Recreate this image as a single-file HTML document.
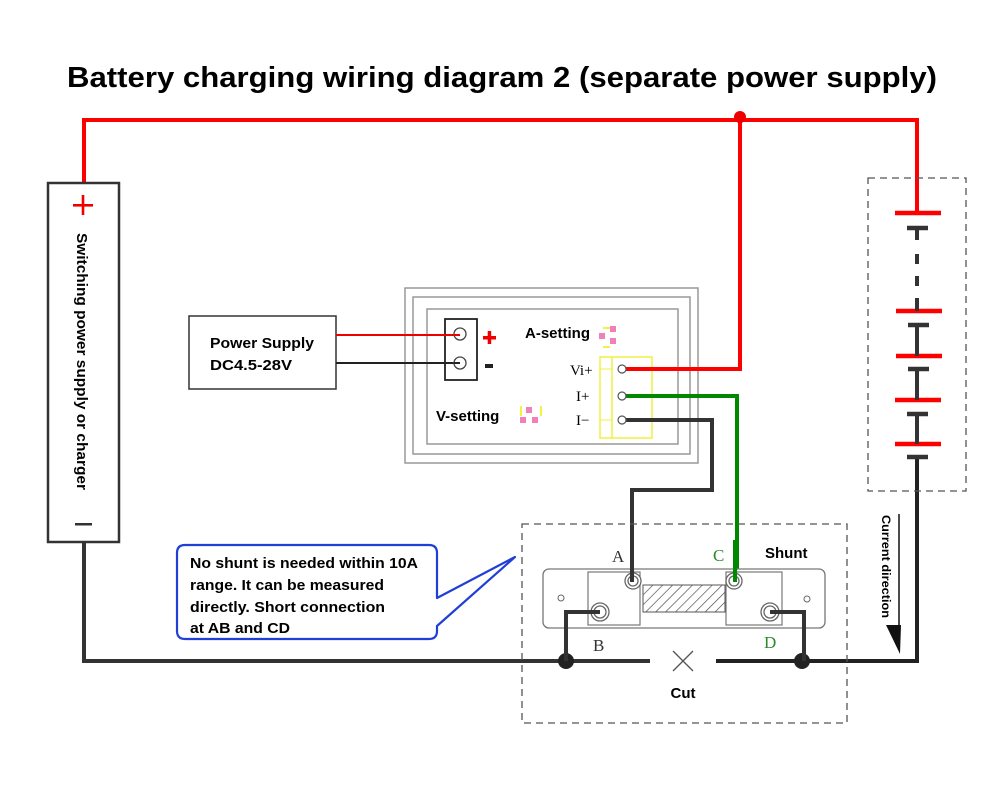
<!DOCTYPE html>
<html><head><meta charset="utf-8"><style>
html,body{margin:0;padding:0;background:#fff;}
svg{display:block;font-family:"Liberation Sans",sans-serif;}
.b{font-weight:bold;}
</style></head><body>
<svg width="1000" height="792" viewBox="0 0 1000 792" xmlns="http://www.w3.org/2000/svg">
<defs>
<pattern id="h" patternUnits="userSpaceOnUse" width="7" height="7" patternTransform="rotate(45)">
<line x1="0" y1="0" x2="0" y2="7" stroke="#444" stroke-width="1.3"/>
</pattern>
</defs>
<text x="67" y="87" textLength="870" lengthAdjust="spacingAndGlyphs" class="b" font-size="29" fill="#000">Battery charging wiring diagram 2 (separate power supply)</text>

<!-- red main -->
<polyline points="84,183 84,120 917,120 917,213" fill="none" stroke="#f00" stroke-width="4"/>
<polyline points="740,120 740,369 624,369" fill="none" stroke="#f00" stroke-width="4"/>
<circle cx="740" cy="117" r="6" fill="#e00"/>

<!-- left box -->
<rect x="48" y="183" width="71" height="359" fill="#fff" stroke="#333" stroke-width="2.5"/>
<rect x="73" y="204" width="20" height="2.6" fill="#e00"/>
<rect x="81.7" y="195" width="2.6" height="20" fill="#e00"/>
<rect x="75" y="523" width="17" height="2.5" fill="#333"/>
<text transform="translate(77,233) rotate(90)" textLength="257" lengthAdjust="spacingAndGlyphs" class="b" font-size="15" fill="#000">Switching power supply or charger</text>

<!-- black bottom -->
<polyline points="84,542 84,661 650,661" fill="none" stroke="#333" stroke-width="4"/>
<polyline points="716,661 917,661 917,457" fill="none" stroke="#222" stroke-width="4"/>
<circle cx="566" cy="661" r="8" fill="#222"/>
<circle cx="802" cy="661" r="8" fill="#222"/>
<line x1="673" y1="651" x2="693" y2="671" stroke="#555" stroke-width="1.3"/>
<line x1="693" y1="651" x2="673" y2="671" stroke="#555" stroke-width="1.3"/>
<text x="683" y="698" text-anchor="middle" class="b" font-size="15">Cut</text>

<!-- battery -->
<rect x="868" y="178" width="98" height="313" fill="none" stroke="#555" stroke-width="1.3" stroke-dasharray="7,5"/>
<g stroke="#f00" stroke-width="4.5">
<line x1="895" y1="213" x2="941" y2="213"/>
<line x1="896" y1="311" x2="942" y2="311"/>
<line x1="896" y1="356" x2="942" y2="356"/>
<line x1="895" y1="400" x2="941" y2="400"/>
<line x1="895" y1="444" x2="941" y2="444"/>
</g>
<g stroke="#333" stroke-width="4.5">
<line x1="907" y1="228" x2="928" y2="228"/>
<line x1="908" y1="325" x2="929" y2="325"/>
<line x1="908" y1="369" x2="929" y2="369"/>
<line x1="907" y1="414" x2="928" y2="414"/>
<line x1="907" y1="457" x2="928" y2="457"/>
</g>
<g stroke="#333" stroke-width="4">
<line x1="917" y1="228" x2="917" y2="240"/>
<line x1="917" y1="254" x2="917" y2="264"/>
<line x1="917" y1="276" x2="917" y2="286"/>
<line x1="917" y1="298" x2="917" y2="311"/>
<line x1="917" y1="325" x2="917" y2="356"/>
<line x1="917" y1="369" x2="917" y2="400"/>
<line x1="917" y1="414" x2="917" y2="444"/>
</g>
<line x1="899" y1="514" x2="899" y2="630" stroke="#111" stroke-width="1.5"/>
<polygon points="886,625 901,625 900,654" fill="#111"/>
<text transform="translate(882,515) rotate(90)" textLength="103" lengthAdjust="spacingAndGlyphs" class="b" font-size="11.5">Current direction</text>

<!-- power supply -->
<rect x="189" y="316" width="147" height="73" fill="#fff" stroke="#333" stroke-width="1.5"/>
<text x="210" y="348" textLength="104" lengthAdjust="spacingAndGlyphs" class="b" font-size="14.5">Power Supply</text>
<text x="210" y="370" textLength="82" lengthAdjust="spacingAndGlyphs" class="b" font-size="14.5">DC4.5-28V</text>

<!-- meter -->
<rect x="405" y="288" width="293" height="175" fill="#fff" stroke="#999" stroke-width="1.5"/>
<rect x="413" y="297" width="277" height="157" fill="none" stroke="#999" stroke-width="1.5"/>
<rect x="427" y="309" width="251" height="135" fill="none" stroke="#999" stroke-width="1.5"/>
<rect x="445" y="319" width="32" height="61" fill="#fff" stroke="#222" stroke-width="1.8"/>
<line x1="336" y1="335" x2="460" y2="335" stroke="#e00" stroke-width="2"/>
<line x1="336" y1="363" x2="460" y2="363" stroke="#222" stroke-width="2"/>
<circle cx="460" cy="334" r="6" fill="#fff" stroke="#444" stroke-width="1.3"/>
<circle cx="460" cy="363" r="6" fill="#fff" stroke="#444" stroke-width="1.3"/>
<line x1="454" y1="335" x2="460" y2="335" stroke="#e00" stroke-width="2"/>
<line x1="454" y1="363" x2="460" y2="363" stroke="#222" stroke-width="2"/>
<rect x="483" y="336" width="13" height="3.5" fill="#e00"/>
<rect x="487.7" y="331" width="3.5" height="13" fill="#e00"/>
<rect x="485" y="364" width="8" height="4" fill="#222"/>
<text x="525" y="338" class="b" font-size="15">A-setting</text>
<text x="436" y="421" class="b" font-size="15">V-setting</text>
<!-- pink icons -->
<g fill="#f080b8">
<rect x="599" y="333" width="6" height="6"/><rect x="610" y="326" width="6" height="6"/><rect x="610" y="338" width="6" height="6"/>
<rect x="526" y="407" width="6" height="6"/><rect x="520" y="417" width="6" height="6"/><rect x="532" y="417" width="6" height="6"/>
</g>
<path d="M603,328 h7 M603,347 h7" stroke="#ee0" stroke-width="1.5"/>
<path d="M521,406 v10 M541,406 v10" stroke="#ee0" stroke-width="1.5"/>
<rect x="600" y="357" width="52" height="81" fill="none" stroke="#f0f040" stroke-width="1.5"/>
<line x1="612" y1="357" x2="612" y2="438" stroke="#f0f040" stroke-width="1.5"/>
<line x1="600" y1="369" x2="612" y2="369" stroke="#f0f040" stroke-width="1"/>
<line x1="600" y1="420" x2="612" y2="420" stroke="#f0f040" stroke-width="1"/>
<text x="570" y="375" font-family="Liberation Serif,serif" font-size="15">Vi+</text>
<text x="576" y="401" font-family="Liberation Serif,serif" font-size="15">I+</text>
<text x="576" y="425" font-family="Liberation Serif,serif" font-size="15">I−</text>

<!-- wires green/black -->
<polyline points="624,396 737,396 737,580" fill="none" stroke="#080" stroke-width="4"/>
<polyline points="624,420 712,420 712,490 632,490 632,580" fill="none" stroke="#333" stroke-width="4"/>
<polyline points="740,369 624,369" fill="none" stroke="#f00" stroke-width="4"/>
<circle cx="622" cy="369" r="4" fill="#fff" stroke="#555" stroke-width="1.2"/>
<circle cx="622" cy="396" r="4" fill="#fff" stroke="#555" stroke-width="1.2"/>
<circle cx="622" cy="420" r="4" fill="#fff" stroke="#555" stroke-width="1.2"/>

<!-- shunt -->
<rect x="522" y="524" width="325" height="199" fill="none" stroke="#555" stroke-width="1.3" stroke-dasharray="7,5"/>
<rect x="543" y="569" width="282" height="59" rx="6" fill="#fff" stroke="#777" stroke-width="1.3"/>
<rect x="588" y="572" width="52" height="53" fill="#fff" stroke="#777" stroke-width="1.2"/>
<rect x="726" y="572" width="56" height="53" fill="#fff" stroke="#777" stroke-width="1.2"/>
<rect x="643" y="585" width="82" height="27" fill="url(#h)" stroke="#555" stroke-width="1"/>
<circle cx="561" cy="598" r="3" fill="none" stroke="#666"/>
<circle cx="807" cy="599" r="3" fill="none" stroke="#666"/>
<g fill="#fff" stroke="#666" stroke-width="1.3">
<circle cx="633" cy="581" r="8"/><circle cx="633" cy="581" r="5"/>
<circle cx="734" cy="581" r="8"/><circle cx="734" cy="581" r="5"/>
<circle cx="600" cy="612" r="9"/><circle cx="600" cy="612" r="6"/>
<circle cx="770" cy="612" r="9"/><circle cx="770" cy="612" r="6"/>
</g>
<line x1="632" y1="540" x2="632" y2="582" stroke="#333" stroke-width="4"/>
<line x1="735" y1="540" x2="735" y2="582" stroke="#080" stroke-width="4"/>
<polyline points="600,612 566,612 566,661" fill="none" stroke="#333" stroke-width="4"/>
<polyline points="770,612 804,612 804,661" fill="none" stroke="#333" stroke-width="4"/>
<text x="612" y="562" font-family="Liberation Serif,serif" font-size="17" fill="#333">A</text>
<text x="713" y="561" font-family="Liberation Serif,serif" font-size="17" fill="#2a8a2a">C</text>
<text x="765" y="558" class="b" font-size="15">Shunt</text>
<text x="593" y="651" font-family="Liberation Serif,serif" font-size="17" fill="#333">B</text>
<text x="764" y="648" font-family="Liberation Serif,serif" font-size="17" fill="#2a8a2a">D</text>

<!-- callout -->
<path d="M185,545 H429 Q437,545 437,553 V598 L515,557 L437,626 V631 Q437,639 429,639 H185 Q177,639 177,631 V553 Q177,545 185,545 Z" fill="#fff" stroke="#1f3fd6" stroke-width="2.2" stroke-linejoin="round"/>
<g class="b" font-size="14.5">
<text x="190" y="568" textLength="228" lengthAdjust="spacingAndGlyphs">No shunt is needed within 10A</text>
<text x="190" y="590" textLength="194" lengthAdjust="spacingAndGlyphs">range. It can be measured</text>
<text x="190" y="612" textLength="195" lengthAdjust="spacingAndGlyphs">directly. Short connection</text>
<text x="190" y="633" textLength="100" lengthAdjust="spacingAndGlyphs">at AB and CD</text>
</g>
</svg>
</body></html>
